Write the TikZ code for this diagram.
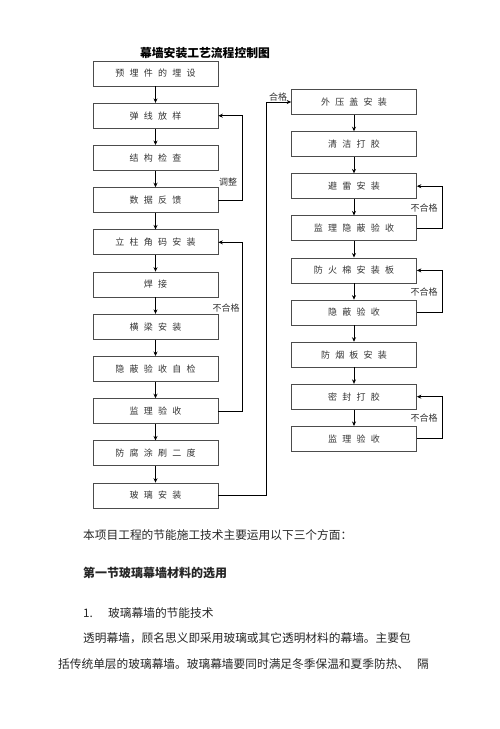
\documentclass[tikz,border=0pt]{standalone}
\usepackage{fontspec}
\setmainfont{Noto Sans CJK SC}
\newfontfamily\boxfont[WordSpace=2.6]{Noto Sans CJK SC}
\usetikzlibrary{arrows.meta}

\begin{document}
\begin{tikzpicture}[x=1pt,y=-1pt,
    box/.style={draw=black!70,line width=0.7pt,minimum width=125pt,minimum height=25pt,inner sep=0pt,font=\boxfont\fontsize{9}{9}\selectfont,text=black!80},
    arr/.style={-{Stealth[length=4.5pt,width=4pt]},line width=0.7pt},
    lbl/.style={font=\fontsize{9}{9}\selectfont,text=black!80,inner sep=0pt},
    para/.style={anchor=west,inner sep=0pt,font=\fontsize{11.7}{11.7}\selectfont,text=black!85}]
                    \useasboundingbox (0,0) rectangle (500,729);
                    \node[inner sep=0pt,font=\fontsize{11.8}{11.8}\selectfont\bfseries] at (205,53) (title) {幕墙安装工艺流程控制图};

                    % left column
                    \node[box] at (155.5,73.5) (L1) {预 埋 件 的 埋 设};
                    \node[box] at (155.5,115.7) (L2) {弹 线 放 样};
                    \node[box] at (155.5,157.9) (L3) {结 构 检 查};
                    \node[box] at (155.5,200.1) (L4) {数 据 反 馈};
                    \node[box] at (155.5,242.3) (L5) {立 柱 角 码 安 装};
                    \node[box] at (155.5,284.5) (L6) {焊 接};
                    \node[box] at (155.5,326.7) (L7) {横 梁 安 装};
                    \node[box] at (155.5,368.9) (L8) {隐 蔽 验 收 自 检};
                    \node[box] at (155.5,411.1) (L9) {监 理 验 收};
                    \node[box] at (155.5,453.3) (L10) {防 腐 涂 刷 二 度};
                    \node[box] at (155.5,495.5) (L11) {玻 璃 安 装};

                    % right column
                    \node[box] at (354,102) (R1) {外 压 盖 安 装};
                    \node[box] at (354,144.1) (R2) {清 洁 打 胶};
                    \node[box] at (354,186.2) (R3) {避 雷 安 装};
                    \node[box] at (354,228.3) (R4) {监 理 隐 蔽 验 收};
                    \node[box] at (354,270.4) (R5) {防 火 棉 安 装 板};
                    \node[box] at (354,312.5) (R6) {隐 蔽 验 收};
                    \node[box] at (354,354.6) (R7) {防 烟 板 安 装};
                    \node[box] at (354,396.7) (R8) {密 封 打 胶};
                    \node[box] at (354,438.8) (R9) {监 理 验 收};

                    \draw[arr] (L1) -- (L2);
                    \draw[arr] (L2) -- (L3);
                    \draw[arr] (L3) -- (L4);
                    \draw[arr] (L4) -- (L5);
                    \draw[arr] (L5) -- (L6);
                    \draw[arr] (L6) -- (L7);
                    \draw[arr] (L7) -- (L8);
                    \draw[arr] (L8) -- (L9);
                    \draw[arr] (L9) -- (L10);
                    \draw[arr] (L10) -- (L11);
                    \draw[arr] (R1) -- (R2);
                    \draw[arr] (R2) -- (R3);
                    \draw[arr] (R3) -- (R4);
                    \draw[arr] (R4) -- (R5);
                    \draw[arr] (R5) -- (R6);
                    \draw[arr] (R6) -- (R7);
                    \draw[arr] (R7) -- (R8);
                    \draw[arr] (R8) -- (R9);

                    % loops back
                    \draw[arr] (L4.east) -- ++(24,0) |- (L2.east);
                    \draw[arr] (L9.east) -- ++(24,0) |- (L5.east);
                    \draw[arr] (L11.east) -- ++(48,0) |- (R1.west);
                    \draw[arr] (R4.east) -- ++(25,0) |- (R3.east);
                    \draw[arr] (R6.east) -- ++(25,0) |- (R5.east);
                    \draw[arr] (R9.east) -- ++(25,0) |- (R8.east);

                    \node[lbl] at (228,182) (adj) {调整};
                    \node[lbl] at (226,308) (fail1) {不合格};
                    \node[lbl] at (278,97) (pass) {合格};
                    \node[lbl] at (424,208) (fail2) {不合格};
                    \node[lbl] at (424,292) (fail3) {不合格};
                    \node[lbl] at (424,418) (fail4) {不合格};

                    % text below
                    \node[para] at (83,535) (p1) {本项目工程的节能施工技术主要运用以下三个方面：};
                    \node[para,font=\fontsize{12}{12}\selectfont\bfseries] at (83,573) (p2) {第一节玻璃幕墙材料的选用};
                    \node[para] at (83,613) (p3) {1.};
                    \node[para] at (108,613) (p4) {玻璃幕墙的节能技术};
                    \node[para] at (83,638) (p5) {透明幕墙，顾名思义即采用玻璃或其它透明材料的幕墙。主要包};
                    \node[para] at (58,664) (p6) {括传统单层的玻璃幕墙。玻璃幕墙要同时满足冬季保温和夏季防热、\hspace{8pt}隔};
                \end{tikzpicture}
\end{document}
